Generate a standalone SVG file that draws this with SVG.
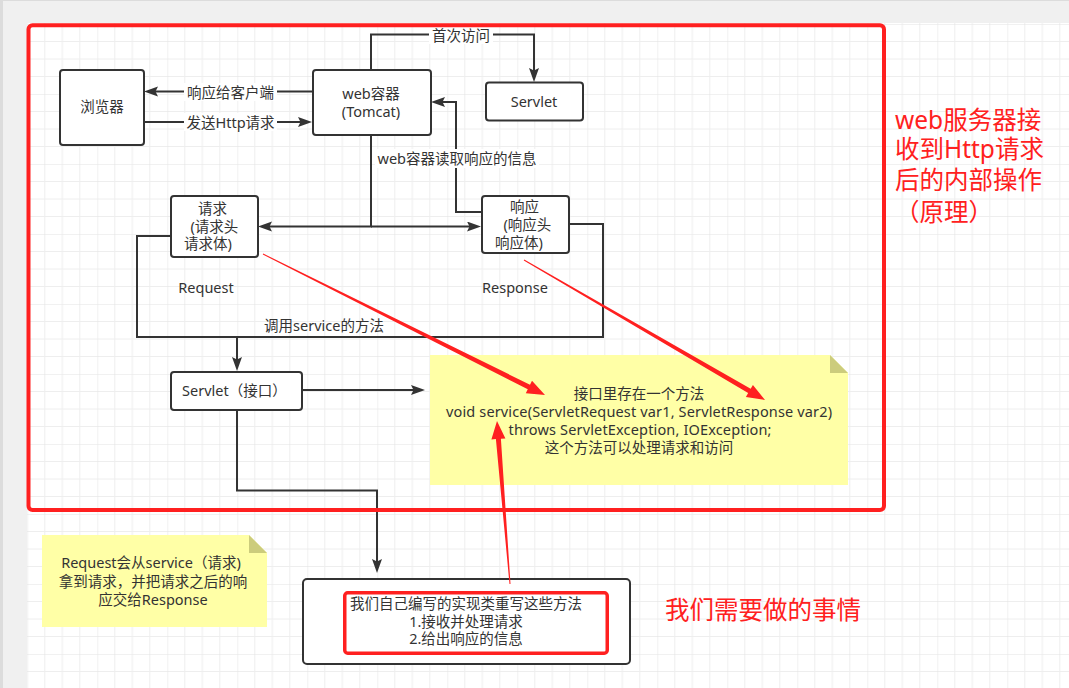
<svg xmlns="http://www.w3.org/2000/svg" width="1069" height="688" viewBox="0 0 1069 688">
<defs>
<style>
.t{font-family:"Noto Sans","Noto Sans CJK SC",sans-serif;font-size:14.5px;fill:#333}
.c{text-anchor:middle}
.box{fill:#fff;stroke:#333;stroke-width:2}
.ln{fill:none;stroke:#333;stroke-width:2}
.lb{fill:#fff}
.note{fill:#ffffa6}
.fold{fill:#cccc7c}
.red{font-family:"Noto Sans","Noto Sans CJK SC",sans-serif;font-size:24.5px;fill:#ff2020}
.ra{fill:#ff2020}
</style>
<marker id="ah" markerUnits="userSpaceOnUse" markerWidth="16" markerHeight="12" refX="8" refY="5" orient="auto">
<path d="M0,0 L14,5 L0,10 L2.5,5 Z" fill="#333"/>
</marker>
<pattern id="grid" patternUnits="userSpaceOnUse" x="27.3" y="24" width="70" height="70">
<path d="M17.5,0V70M35,0V70M52.5,0V70M0,17.5H70M0,35H70M0,52.5H70" stroke="#eeeeee" stroke-width="1" fill="none"/>
<path d="M0,0V70M0,0H70" stroke="#e4e4e4" stroke-width="1" fill="none"/>
</pattern>
</defs>
<g id="background">
<rect x="0" y="0" width="1069" height="688" fill="#f0f0f0"/>
<rect x="0" y="0" width="3" height="688" fill="#dcdcdc"/>
<rect x="0" y="0" width="1069" height="1" fill="#dcdcdc"/>
<rect x="27" y="23" width="1042" height="665" fill="#fff"/>
<rect x="27" y="23" width="1042" height="665" fill="url(#grid)"/>
</g>
<g id="connectors">
<path class="ln" d="M371,69 V34.5 H534 V76" marker-end="url(#ah)"/>
<path class="ln" d="M312,91.5 H150" marker-end="url(#ah)"/>
<path class="ln" d="M144,122 H306" marker-end="url(#ah)"/>
<path class="ln" d="M481,212 H456 V102 H437" marker-end="url(#ah)"/>
<path class="ln" d="M371,135 V226.5 H264" marker-end="url(#ah)"/>
<path class="ln" d="M371,226.5 H475" marker-end="url(#ah)"/>
<path class="ln" d="M170,236 H137 V337 H603 V224 H569"/>
<path class="ln" d="M237,337 V365" marker-end="url(#ah)"/>
<path class="ln" d="M302,390 H419" marker-end="url(#ah)"/>
<path class="ln" d="M237,410 V490.5 H377 V567" marker-end="url(#ah)"/>
<rect class="lb" x="429" y="26" width="64" height="18"/>
<text class="t c" x="461" y="40.5">首次访问</text>
<rect class="lb" x="184" y="83" width="93" height="18"/>
<text class="t c" x="230.5" y="97.5">响应给客户端</text>
<rect class="lb" x="184" y="113" width="93" height="18"/>
<text class="t c" x="230.5" y="127.5">发送Http请求</text>
<rect class="lb" x="375" y="149" width="164" height="19"/>
<text class="t c" x="457" y="163.5">web容器读取响应的信息</text>
<text class="t c" x="324" y="331">调用service的方法</text>
</g>
<g id="browser">
<rect class="box" x="60" y="70" width="84" height="75" rx="3"/>
<text class="t c" x="102" y="112">浏览器</text>
</g>
<g id="webcontainer">
<rect class="box" x="313" y="70" width="118" height="65" rx="3"/>
<text class="t c" x="371" y="98.5">web容器</text>
<text class="t c" x="371" y="117">(Tomcat)</text>
</g>
<g id="servlet">
<rect class="box" x="486" y="82.5" width="97" height="38" rx="3"/>
<text class="t c" x="534" y="106.5">Servlet</text>
</g>
<g id="request">
<rect class="box" x="171" y="196" width="87" height="61" rx="3"/>
<text class="t" x="198" y="213.5">请求</text>
<text class="t" x="190.5" y="231.5">(请求头</text>
<text class="t" x="184" y="248.5">请求体)</text>
</g>
<g id="response">
<rect class="box" x="482" y="196" width="87" height="57" rx="3"/>
<text class="t" x="510" y="212">响应</text>
<text class="t" x="503.5" y="230">(响应头</text>
<text class="t" x="495" y="248">响应体)</text>
</g>
<g id="labels">
<text class="t c" x="206" y="293">Request</text>
<text class="t c" x="515" y="293">Response</text>
</g>
<g id="servlet-interface">
<rect class="box" x="171" y="372" width="131" height="38" rx="3"/>
<text class="t" x="182" y="396">Servlet（接口）</text>
</g>
<g id="note-service">
<path class="note" d="M430,355 H830 L848,373 V485 H430 Z"/>
<path class="fold" d="M830,355 V373 H848 Z"/>
<text class="t c" x="639" y="398.5">接口里存在一个方法</text>
<text class="t c" x="639" y="417" textLength="386" lengthAdjust="spacing">void service(ServletRequest var1, ServletResponse var2)</text>
<text class="t c" x="640" y="435" textLength="263" lengthAdjust="spacing">throws ServletException, IOException;</text>
<text class="t c" x="639" y="452.5">这个方法可以处理请求和访问</text>
</g>
<g id="note-request">
<path class="note" d="M42,535 H249 L267,553 V627 H42 Z"/>
<path class="fold" d="M249,535 V553 H267 Z"/>
<text class="t c" x="151" y="568">Request会从service（请求)</text>
<text class="t c" x="153" y="587">拿到请求，并把请求之后的响</text>
<text class="t c" x="153" y="605">应交给Response</text>
</g>
<g id="impl">
<rect class="box" x="303" y="579" width="327" height="85" rx="4"/>
<text class="t c" x="466" y="609">我们自己编写的实现类重写这些方法</text>
<text class="t c" x="466" y="627">1.接收并处理请求</text>
<text class="t c" x="466" y="644">2.给出响应的信息</text>
</g>
<g id="annotations">
<rect x="28.5" y="25.3" width="855.5" height="484.7" rx="4" fill="none" stroke="#ff2020" stroke-width="4"/>
<rect x="344.75" y="592.75" width="262.5" height="60.5" rx="3" fill="none" stroke="#ff2020" stroke-width="3.5"/>
<polygon class="ra" points="262.78,254.45 527.78,389.2 525.8,393.2 545,395 532.0,380.7 530.0,384.7 263.2,253.55"/>
<polygon class="ra" points="523.75,260.43 748.14,393.12 745.88,397.01 765,400 752.92,384.91 750.66,388.8 524.25,259.57"/>
<polygon class="ra" points="510.5,583.96 500.9,438.7 505.4,438.4 497,421 491.4,439.4 495.9,439.1 509.5,584.04"/>
<text class="red" x="895" y="128.6">web服务器接</text>
<text class="red" x="895" y="157.6">收到Http请求</text>
<text class="red" x="895" y="189.3">后的内部操作</text>
<text class="red" x="895" y="221">（原理）</text>
<text class="red" x="665" y="618.6">我们需要做的事情</text>
</g>
</svg>
